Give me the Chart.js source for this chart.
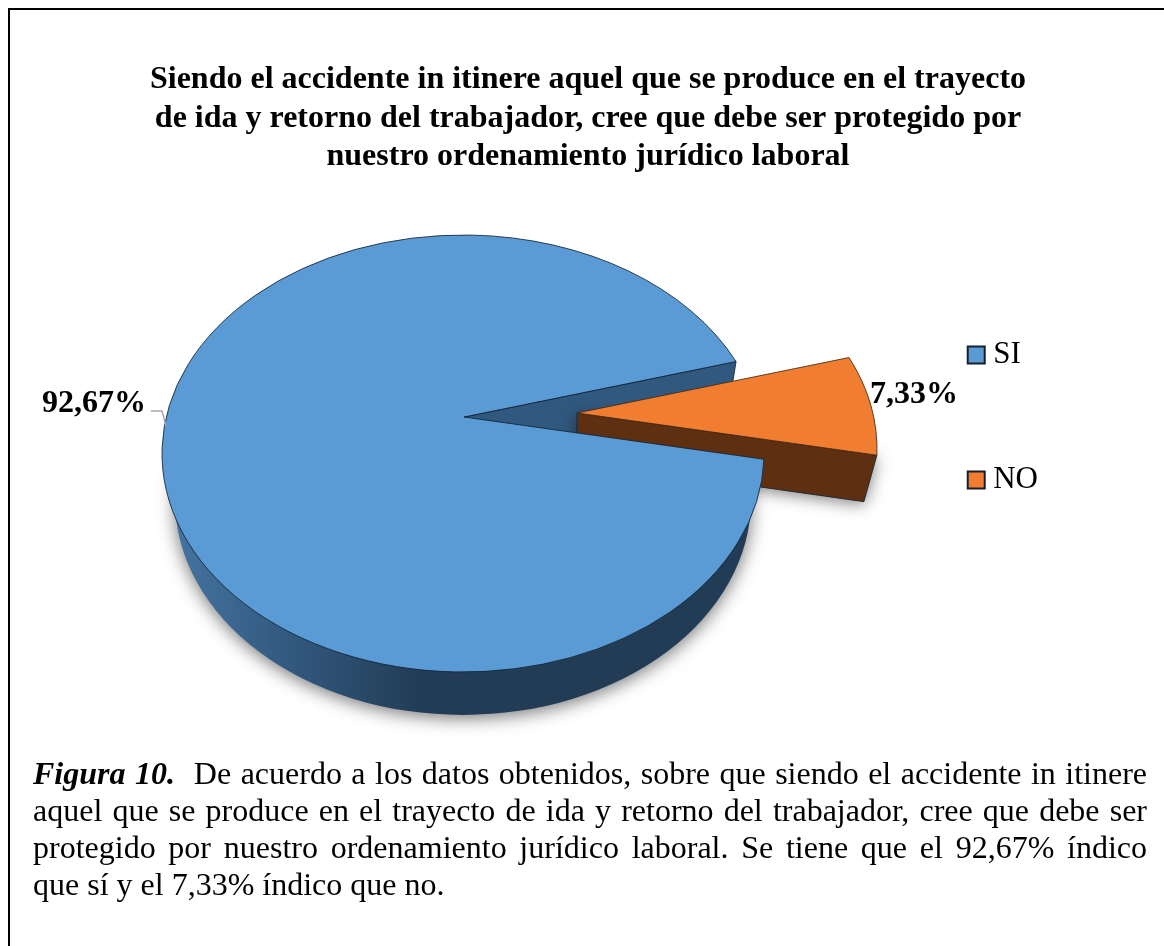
<!DOCTYPE html>
<html lang="es">
<head>
<meta charset="utf-8">
<title>Figura 10</title>
<script src="https://cdn.jsdelivr.net/npm/chart.js@4"></script>
<style>
  html, body { margin: 0; padding: 0; background: #fff; }
  #page { position: relative; width: 1164px; height: 946px; overflow: hidden; }
  #frame { position: absolute; left: 8px; top: 8px; right: -4px; bottom: -4px; border: 2px solid #000; }
  canvas { position: absolute; left: 0; top: 0; }
  #caption {
    position: absolute; left: 33px; top: 755px; width: 1114px; margin: 0;
    font: 32px/37px "Liberation Serif", serif; color: #000; text-align: justify;
  }
  #caption b { font-style: italic; }
</style>
</head>
<body>
<div id="page">
  <div id="frame"></div>
  <canvas id="chart" width="1164" height="946"></canvas>
  <p id="caption"><b>Figura 10.</b>&nbsp; De acuerdo a los datos obtenidos, sobre que siendo el accidente in itinere aquel que se produce en el trayecto de ida y retorno del trabajador, cree que debe ser protegido por nuestro ordenamiento jurídico laboral. Se tiene que el 92,67% índico que sí y el 7,33% índico que no.</p>
</div>
<script>
const categories = ['SI', 'NO'];
const values = [92.67, 7.33];
const titleLines = [
  'Siendo el accidente in itinere aquel que se produce en el trayecto',
  'de ida y retorno del trabajador, cree que debe ser protegido por',
  'nuestro ordenamiento jurídico laboral'
];

const faceColors = ['#5b9bd5', '#f07d30'];
const SERIF = '"Liberation Serif", serif';

// the pie is tilted with a bit of perspective, so the top and bottom rims are different ellipses
const TOP = { x: 463, y: 453.5, rx: 301, ry: 218.5 };
const FLOOR = { x: 463, y: 500, rx: 288, ry: 215 };
const APEX = { x: 464, y: 417 };
const PULL = { x: 113, y: -4 }; // how far the NO slice is moved out

const rimPoint = (e, a, shift = { x: 0, y: 0 }) => ({
  x: e.x + e.rx * Math.cos(a) + shift.x,
  y: e.y + e.ry * Math.sin(a) + shift.y
});

function polygon(ctx, pts) {
  ctx.beginPath();
  pts.forEach((p, i) => i ? ctx.lineTo(p.x, p.y) : ctx.moveTo(p.x, p.y));
  ctx.closePath();
}

function facePath(ctx, arc, shift) {
  const s = rimPoint(TOP, arc.startAngle, shift);
  ctx.beginPath();
  ctx.moveTo(APEX.x + shift.x, APEX.y + shift.y);
  ctx.lineTo(s.x, s.y);
  ctx.ellipse(TOP.x + shift.x, TOP.y + shift.y, TOP.rx, TOP.ry, 0, arc.startAngle, arc.endAngle);
  ctx.closePath();
}

const tiltedPie = {
  id: 'tiltedPie',
  // replaces the flat arcs, the angles still come from the library's arc elements
  beforeDatasetsDraw(chart) {
    const ctx = chart.ctx;
    const [si, no] = chart.getDatasetMeta(0).data;
    const none = { x: 0, y: 0 };
    const edge = 'rgba(20, 35, 50, 0.85)';
    ctx.save();
    ctx.lineWidth = 1;

    // outer wall of SI
    const wall = ctx.createLinearGradient(165, 0, 420, 0);
    wall.addColorStop(0, '#4576a3');
    wall.addColorStop(0.5, '#32587e');
    wall.addColorStop(1, '#223c55');
    ctx.save();
    ctx.shadowColor = 'rgba(0, 0, 0, 0.55)';
    ctx.shadowBlur = 18;
    ctx.shadowOffsetY = 3;
    ctx.beginPath();
    ctx.ellipse(FLOOR.x, FLOOR.y, FLOOR.rx, FLOOR.ry, 0, 0, Math.PI * 2);
    ctx.fillStyle = wall;
    ctx.fill();
    ctx.restore();

    // inner wall of SI seen through the gap
    const a = rimPoint(TOP, no.startAngle);
    polygon(ctx, [APEX, a, { x: a.x - 3, y: a.y + 19 }, { x: 577, y: 470 }]);
    ctx.fillStyle = '#31587e';
    ctx.fill();
    ctx.strokeStyle = edge;
    ctx.stroke();

    // wall of NO
    const noTop = rimPoint(TOP, no.endAngle, PULL);
    const noFloor = rimPoint(FLOOR, no.endAngle, PULL);
    ctx.save();
    ctx.shadowColor = 'rgba(0, 0, 0, 0.5)';
    ctx.shadowBlur = 16;
    ctx.shadowOffsetY = 3;
    polygon(ctx, [
      { x: APEX.x + PULL.x, y: APEX.y + PULL.y },
      noTop,
      noFloor,
      { x: APEX.x + PULL.x, y: 461 }
    ]);
    ctx.fillStyle = '#5f2f11';
    ctx.fill();
    ctx.restore();
    ctx.strokeStyle = edge;
    ctx.stroke();

    // top faces
    facePath(ctx, si, none);
    ctx.fillStyle = faceColors[0];
    ctx.fill();
    ctx.strokeStyle = edge;
    ctx.stroke();

    facePath(ctx, no, PULL);
    ctx.fillStyle = faceColors[1];
    ctx.fill();
    ctx.strokeStyle = 'rgba(70, 40, 15, 0.85)';
    ctx.stroke();

    ctx.restore();
    return false;
  },
  // afterDatasetsDraw is skipped once beforeDatasetsDraw returns false
  afterDraw(chart) {
    const ctx = chart.ctx;
    const text = values.map(v => v.toFixed(2).replace('.', ',') + '%');
    ctx.save();
    // leader line of the big slice
    ctx.strokeStyle = '#a6a6a6';
    ctx.lineWidth = 1.5;
    ctx.beginPath();
    ctx.moveTo(151, 411);
    ctx.lineTo(162, 411);
    ctx.lineTo(166, 426);
    ctx.stroke();
    ctx.fillStyle = '#000';
    ctx.font = 'bold 32px ' + SERIF;
    ctx.textBaseline = 'alphabetic';
    ctx.fillText(text[0], 42, 412);
    ctx.fillText(text[1], 870, 403);
    ctx.restore();
  }
};

new Chart(document.getElementById('chart'), {
  type: 'pie',
  data: {
    labels: categories,
    datasets: [{
      data: values,
      backgroundColor: faceColors,
      borderColor: '#14202c',
      borderWidth: 2
    }]
  },
  options: {
    responsive: false,
    animation: false,
    rotation: 91.5,
    layout: { padding: { left: 128, right: 116, top: 61, bottom: 172 } },
    plugins: {
      tooltip: { enabled: false },
      title: {
        display: true,
        text: titleLines,
        color: '#000',
        font: { family: SERIF, size: 32, weight: 'bold', lineHeight: 1.2 },
        padding: { top: 0, bottom: 0 }
      },
      legend: {
        position: 'right',
        labels: {
          color: '#000',
          font: { family: SERIF, size: 31 },
          usePointStyle: true,
          pointStyle: 'rect',
          boxWidth: 3,
          boxHeight: 17,
          padding: 94
        }
      }
    }
  },
  plugins: [tiltedPie]
});
</script>
</body>
</html>
